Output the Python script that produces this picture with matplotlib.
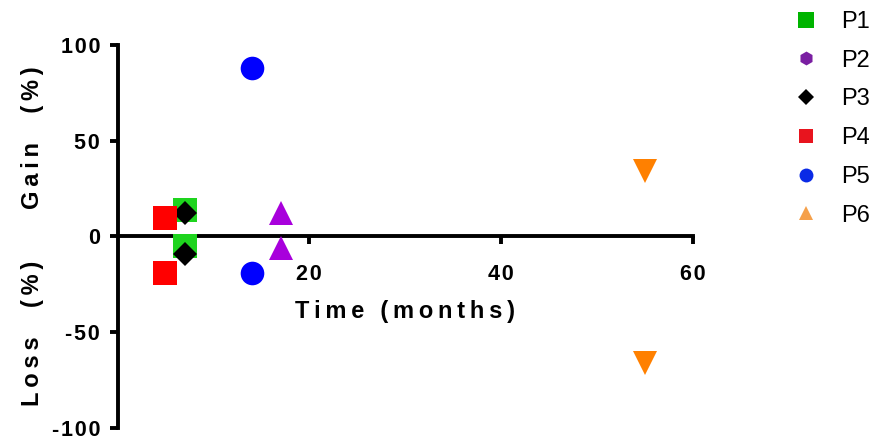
import matplotlib
matplotlib.use("Agg")
import matplotlib.pyplot as plt
from matplotlib.lines import Line2D

plt.rcParams['font.family'] = ['Liberation Sans', 'DejaVu Sans']

# gain / loss per patient over time
labels = ["P1", "P2", "P3", "P4", "P5", "P6"]
time_p1, change_p1 = [7, 7], [14, -5]
time_p2, change_p2 = [17, 17], [12, -6]
time_p3, change_p3 = [7, 7], [12, -9]
time_p4, change_p4 = [5, 5], [9.5, -19]
time_p5, change_p5 = [14, 14], [88, -19]
time_p6, change_p6 = [55, 55], [34, -66]

x_ticks = [20, 40, 60]
y_ticks = [-100, -50, 0, 50, 100]


def spaced(s, gap="\u2009"):
    return gap.join(s)


fig = plt.figure(figsize=(8.82, 4.42), dpi=100)
ax = fig.add_axes([0.1333, 0.0324, 0.652, 0.8658])

series = [
    (time_p1, change_p1, "s", "#1ed41e", 17),
    (time_p2, change_p2, "^", "#a800dc", 17),
    (time_p3, change_p3, "D", "#000000", 12),
    (time_p4, change_p4, "s", "#ff0000", 17),
    (time_p5, change_p5, "o", "#0000ff", 17),
    (time_p6, change_p6, "v", "#ff8000", 17),
]
for i, (x, y, m, c, ms) in enumerate(series):
    ax.plot(x, y, linestyle="none", marker=m, color=c, ms=ms,
            markeredgewidth=0, zorder=3 + i, clip_on=False)

ax.set_xlim(0, 60)
ax.set_ylim(-100, 100)
for s in ["top", "right"]:
    ax.spines[s].set_visible(False)
ax.spines["bottom"].set_position(("data", 0))
for s in ["left", "bottom"]:
    ax.spines[s].set_linewidth(2.8)
    ax.spines[s].set_capstyle("projecting")

ax.set_xticks(x_ticks)
ax.set_yticks(y_ticks)
ax.set_xticklabels([spaced(str(v), "\u200a") for v in x_ticks])
ax.set_yticklabels([spaced(str(v), "\u200a") for v in y_ticks])
ax.tick_params(axis="both", width=2.8, length=5.5, labelsize=15.5)
ax.tick_params(axis="x", pad=14.5)
ax.tick_params(axis="y", pad=7)
for t in ax.get_xticklabels() + ax.get_yticklabels():
    t.set_fontweight("bold")

ax.text(30, -39.5, spaced("Time") + "\u2009 \u2009" + spaced("(months)"),
        ha="center", va="center", fontsize=17, fontweight="bold")
fig.text(0.037, 1 - 138 / 442, spaced("Gain") + "\u2009  \u2009 " + spaced("(%)"),
         rotation=90, ha="center", va="center", fontsize=17, fontweight="bold")
fig.text(0.037, 1 - 333 / 442, spaced("Loss") + "\u2009  \u2009 " + spaced("(%)"),
         rotation=90, ha="center", va="center", fontsize=17, fontweight="bold")

handles = [
    Line2D([], [], ls="none", marker="s", color="#00b400", ms=11, mew=0),
    Line2D([], [], ls="none", marker="h", color="#7a1fa2", ms=10, mew=0),
    Line2D([], [], ls="none", marker="D", color="#000000", ms=8, mew=0),
    Line2D([], [], ls="none", marker="s", color="#e8141e", ms=10, mew=0),
    Line2D([], [], ls="none", marker="o", color="#0a2ae6", ms=10, mew=0),
    Line2D([], [], ls="none", marker="^", color="#f5a04a", ms=10, mew=0),
]
fig.legend(handles, labels, loc="upper left", bbox_to_anchor=(0.879, 1.018),
           frameon=False, fontsize=17, labelspacing=0.71, handlelength=1.0,
           handletextpad=1.0, borderpad=0.3)

fig.savefig("out.png", dpi=100)
